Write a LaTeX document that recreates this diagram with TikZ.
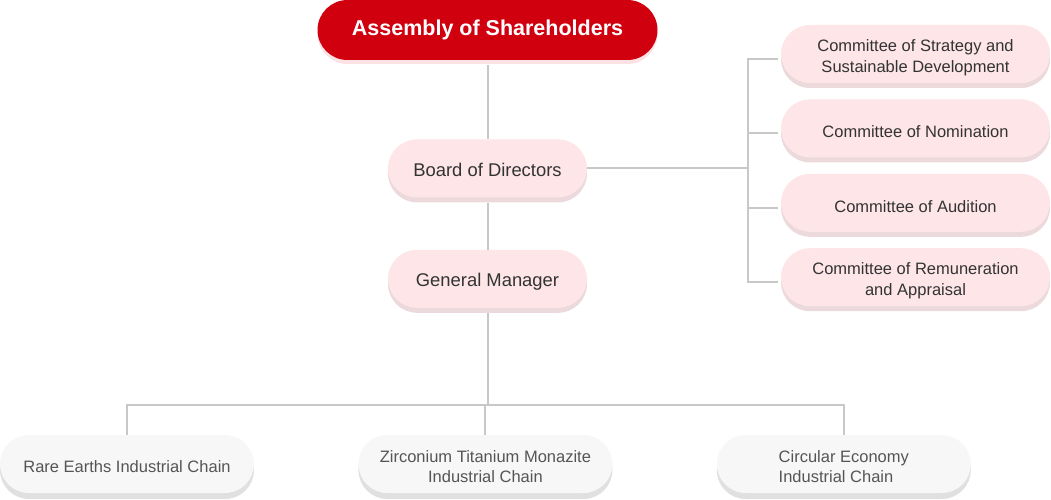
\documentclass[tikz,border=0pt]{standalone}
\usepackage{fontspec}
\setmainfont{Liberation Sans}
\usetikzlibrary{positioning,shadows}
\definecolor{shred}{HTML}{D0000F}
\definecolor{headshadow}{HTML}{FCE2E5}
\definecolor{pinkfill}{HTML}{FDE5E8}
\definecolor{pinkshadow}{HTML}{EBD9DB}
\definecolor{greyfill}{HTML}{F7F7F7}
\definecolor{greyshadow}{HTML}{E0E0E0}
\definecolor{linegray}{HTML}{C8C8C8}
\definecolor{txtdark}{HTML}{333333}
\definecolor{txtgrey}{HTML}{555555}
% strut for the first of two lines
\newcommand{\topstrut}{\rule{0pt}{21pt}}
\tikzset{
    % Define connector style
    linie/.style={
           draw=linegray,
           line width=2pt},
    % Define standard box style (#1/#2: strut height/depth, sets the text a bit low)
    pill/.style 2 args={
           rectangle,
           rounded corners=29pt,
           minimum height=58pt,
           inner sep=0pt,
           align=center,
           execute at begin node={\rule[-#2]{0pt}{\dimexpr#1+#2\relax}}},
    headbox/.style={pill={0pt}{0pt},fill=shred,text=white,minimum width=340pt,minimum height=60pt,rounded corners=30pt,
           font=\bfseries\fontsize{21.5}{24}\selectfont,
           drop shadow={shadow xshift=0pt,shadow yshift=-4pt,fill=headshadow,opacity=1}},
    pinkbox/.style={pill={19.7pt}{4.5pt},fill=pinkfill,text=txtdark,minimum width=199pt,
           font=\fontsize{18.4}{22}\selectfont,
           drop shadow={shadow xshift=0pt,shadow yshift=-5pt,fill=pinkshadow,opacity=1}},
    combox/.style={pinkbox,pill={23pt}{4pt},minimum width=269pt,font=\fontsize{16.5}{21}\selectfont},
    greybox/.style={pill={20.8pt}{4pt},fill=greyfill,text=txtgrey,minimum width=254pt,
           font=\fontsize{16.5}{20}\selectfont,
           drop shadow={shadow xshift=0pt,shadow yshift=-6pt,fill=greyshadow,opacity=1}}
}

\begin{document}
\begin{tikzpicture}
  \useasboundingbox (0,0) rectangle (1051pt,-500pt);
  % main column
  \node[headbox] (assembly) at (487.5pt,-30pt) {Assembly of Shareholders};
  \node[pinkbox] (board) [below=79pt of assembly] {Board of Directors};
  \node[pinkbox] (gm) [below=52pt of board] {General Manager};
  % committees
  \node[combox] (c1) at (915.5pt,-54pt) {\topstrut Committee of Strategy and\\Sustainable Development};
  \node[combox] (c2) [below=16pt of c1] {Committee of Nomination};
  \node[combox] (c3) [below=16pt of c2] {Committee of Audition};
  \node[combox] (c4) [below=16pt of c3] {\topstrut Committee of Remuneration\\and Appraisal};
  % industrial chains
  \node[greybox] (rare) at (127pt,-464pt) {Rare Earths Industrial Chain};
  \node[greybox] (zirc) [right=104pt of rare] {\topstrut Zirconium Titanium Monazite\\Industrial Chain};
  \node[greybox,align=left] (circ) [right=104pt of zirc] {\topstrut Circular Economy\\Industrial Chain};
  \coordinate[right=161pt of board.east] (knot);
  \coordinate[below=97pt of gm.south] (fork);
  % connectors
  \draw[linie,shorten <=5pt] (assembly.south) -- (board.north);
  \draw[linie,shorten <=5pt] (board.south) -- (gm.north);
  \draw[linie] (board.east) -- (knot);
  \foreach \c in {c1,c2,c3,c4}
    \draw[linie,shorten >=3pt] (knot) |- ([yshift=-5pt]\c.west);
  \draw[linie,shorten <=5pt] (gm.south) -- (fork);
  \foreach \b in {rare,zirc,circ}
    \draw[linie] (fork) -| (\b.north);
\end{tikzpicture}
\end{document}
